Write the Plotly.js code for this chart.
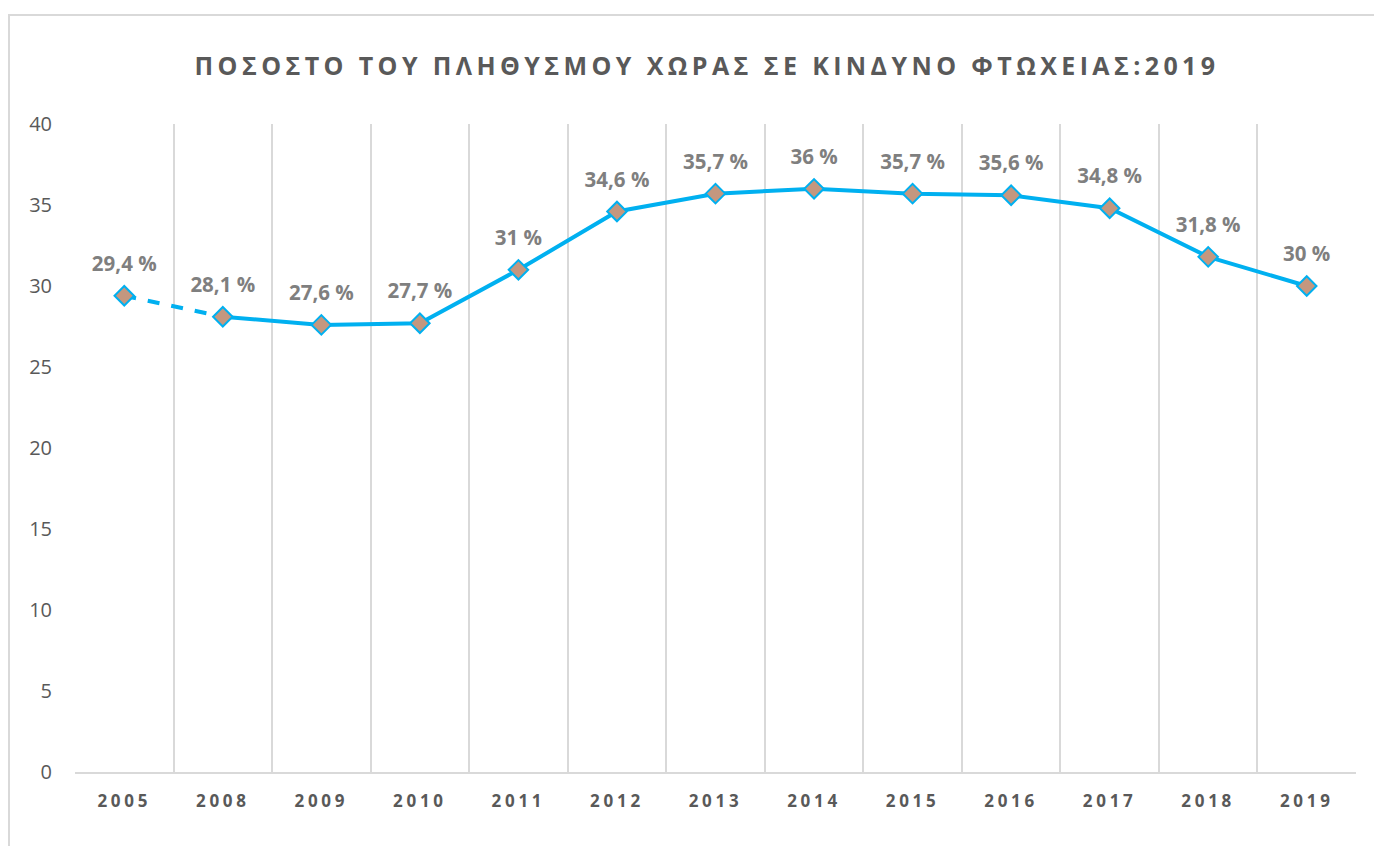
<!DOCTYPE html>
<html>
<head>
<meta charset="utf-8">
<script src="https://cdn.plot.ly/plotly-3.0.1.min.js"></script>
<style>
  html, body { margin: 0; padding: 0; background: #ffffff; overflow: hidden; }
  #chart { position: absolute; left: 0; top: 0; width: 1374px; height: 846px; }
  #frame { position: absolute; left: 8px; top: 14px; width: 2000px; height: 2000px;
           border-top: 2px solid #d9d9d9; border-left: 2px solid #d9d9d9; pointer-events: none; }
  .gtitle { letter-spacing: 4.4px; }
  .xtick text { letter-spacing: 3.7px; }
</style>
</head>
<body>
<div id="chart"></div>
<div id="frame"></div>
<script>
const years = ["2005", "2008", "2009", "2010", "2011", "2012", "2013", "2014", "2015", "2016", "2017", "2018", "2019"];
const povertyRate = [29.4, 28.1, 27.6, 27.7, 31, 34.6, 35.7, 36, 35.7, 35.6, 34.8, 31.8, 30];
const chartTitle = "ΠΟΣΟΣΤΟ ΤΟΥ ΠΛΗΘΥΣΜΟΥ ΧΩΡΑΣ ΣΕ ΚΙΝΔΥΝΟ ΦΤΩΧΕΙΑΣ:2019";

const labels = povertyRate.map(v => String(v).replace('.', ',') + ' %');
const lineColor = '#00b0f0';

const traces = [
  { // dashed first segment (gap in years)
    x: years.slice(0, 2), y: povertyRate.slice(0, 2),
    type: 'scatter', mode: 'lines',
    line: { color: lineColor, width: 4, dash: 'dash' },
    hoverinfo: 'skip', showlegend: false
  },
  {
    x: years.slice(1), y: povertyRate.slice(1),
    type: 'scatter', mode: 'lines',
    line: { color: lineColor, width: 4 },
    hoverinfo: 'skip', showlegend: false
  },
  {
    x: years, y: povertyRate,
    type: 'scatter', mode: 'markers',
    marker: { symbol: 'diamond', size: 15, color: '#c4977f', line: { color: lineColor, width: 2 } },
    showlegend: false
  },
  { // data labels
    x: years, y: povertyRate, text: labels,
    type: 'scatter', mode: 'markers+text', textposition: 'top center',
    marker: { size: 30, opacity: 0 },
    textfont: { family: 'Open Sans, sans-serif', size: 20.5, color: '#7f7f7f', weight: 'bold' },
    hoverinfo: 'skip', showlegend: false
  }
];

const layout = {
  width: 1374, height: 846,
  margin: { l: 75, r: 18, t: 124, b: 74 },
  paper_bgcolor: 'rgba(0,0,0,0)', plot_bgcolor: 'rgba(0,0,0,0)',
  title: {
    text: '<b>' + chartTitle + '</b>',
    font: { family: 'Open Sans, sans-serif', size: 25, color: '#595959' },
    xref: 'container', yref: 'container', x: 0.5146, y: 0.9220,
    xanchor: 'center', yanchor: 'middle'
  },
  xaxis: {
    type: 'category', range: [-0.5, 12.5],
    tickson: 'boundaries', ticks: '',
    showgrid: true, gridcolor: '#d9d9d9', gridwidth: 2,
    showline: true, linecolor: '#d9d9d9', linewidth: 2,
    zeroline: false, fixedrange: true,
    ticklabelstandoff: 13,
    tickfont: { family: 'Open Sans, sans-serif', size: 17, color: '#595959', weight: 'bold' }
  },
  yaxis: {
    range: [0, 40], dtick: 5, tick0: 0,
    showgrid: false, zeroline: false, showline: false, ticks: '',
    fixedrange: true, ticklabelstandoff: 22,
    tickfont: { family: 'Open Sans, sans-serif', size: 20, color: '#595959' }
  }
};

Plotly.newPlot('chart', traces, layout, { staticPlot: true, displayModeBar: false });
</script>
</body>
</html>
